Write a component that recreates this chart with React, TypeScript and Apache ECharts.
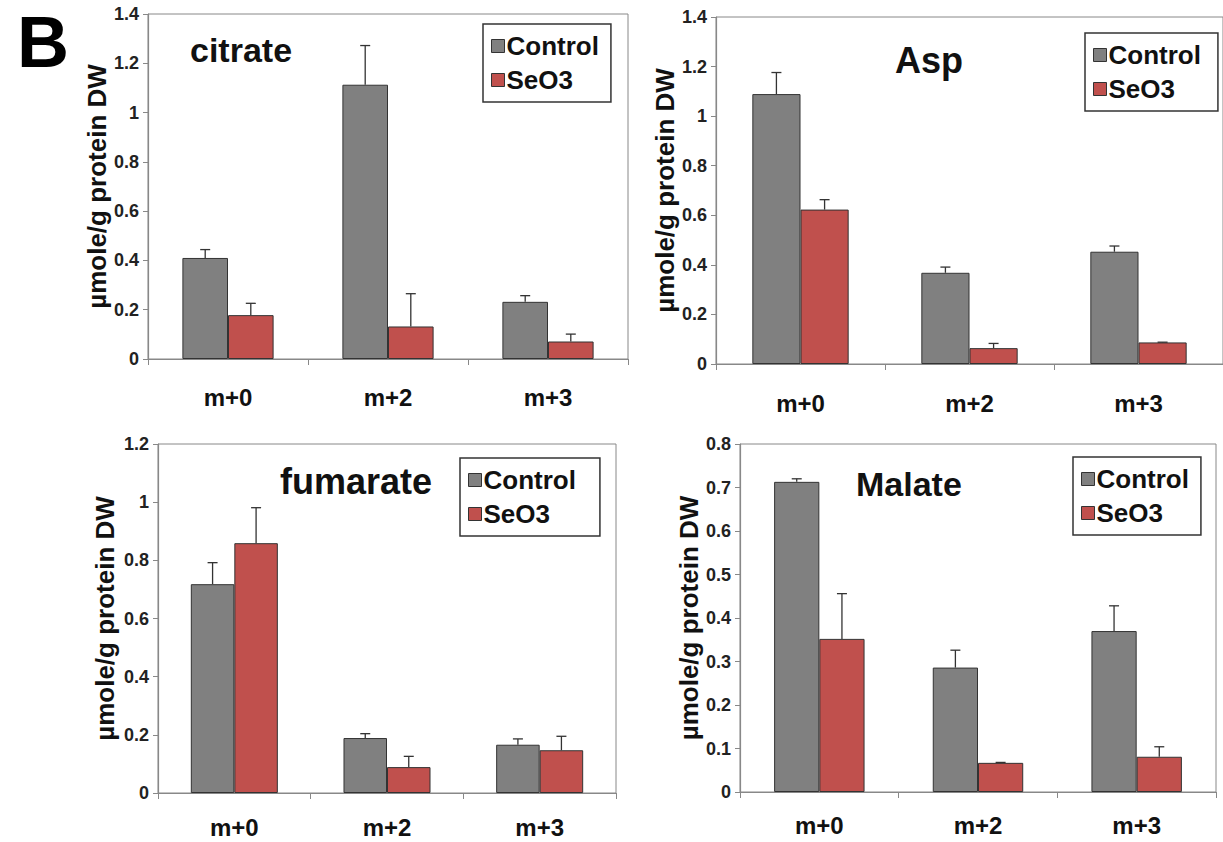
import React, { useEffect, useRef } from "react";
import * as echarts from "echarts";

const categories = ["m+0", "m+2", "m+3"];
const seriesNames = ["Control", "SeO3"];

const citrateControl = [0.41, 1.113, 0.232];
const citrateControlErr = [0.034, 0.159, 0.025];
const citrateSeO3 = [0.178, 0.132, 0.071];
const citrateSeO3Err = [0.048, 0.133, 0.03];

const aspControl = [1.089, 0.368, 0.453];
const aspControlErr = [0.087, 0.023, 0.023];
const aspSeO3 = [0.623, 0.064, 0.087];
const aspSeO3Err = [0.04, 0.019, 0.001];

const fumarateControl = [0.718, 0.189, 0.166];
const fumarateControlErr = [0.074, 0.015, 0.02];
const fumarateSeO3 = [0.859, 0.089, 0.147];
const fumarateSeO3Err = [0.122, 0.037, 0.048];

const malateControl = [0.713, 0.286, 0.37];
const malateControlErr = [0.007, 0.04, 0.058];
const malateSeO3 = [0.352, 0.067, 0.081];
const malateSeO3Err = [0.104, 0.001, 0.023];

const panelLetter = "B";
const panelTitles = ["citrate", "Asp", "fumarate", "Malate"];
const yAxisName = "µmole/g protein DW";
const yMax = [1.4, 1.4, 1.2, 0.8];
const yInterval = [0.2, 0.2, 0.2, 0.1];

const FONT = "Liberation Sans, Arial, sans-serif";
const GRAY = "#808080";
const RED = "#c0504d";
const GAP = 0.43;

const panels = [
  { control: citrateControl, controlErr: citrateControlErr, seo3: citrateSeO3, seo3Err: citrateSeO3Err },
  { control: aspControl, controlErr: aspControlErr, seo3: aspSeO3, seo3Err: aspSeO3Err },
  { control: fumarateControl, controlErr: fumarateControlErr, seo3: fumarateSeO3, seo3Err: fumarateSeO3Err },
  { control: malateControl, controlErr: malateControlErr, seo3: malateSeO3, seo3Err: malateSeO3Err },
];

const grids = [
  { left: 148, top: 14, width: 480, height: 345 },
  { left: 716, top: 17, width: 513, height: 347 },
  { left: 158, top: 444, width: 458, height: 349 },
  { left: 740, top: 444, width: 476, height: 348 },
];
const nameGaps = [30, 32, 40, 36];
const catMargins = [26, 27, 22, 21];
const titleSizes = [34, 36, 36, 34];
const titlePos = [
  { left: 190, top: 33 },
  { left: 895, top: 42 },
  { left: 280, top: 463 },
  { left: 856, top: 467 },
];
const legendPos = [
  { left: 483, top: 24, padR: 12 },
  { left: 1085, top: 33, padR: 17 },
  { left: 460, top: 458, padR: 24 },
  { left: 1073, top: 457, padR: 12 },
];

function errorRender(side: number) {
  return (params: any, api: any) => {
    const cat = api.value(0);
    const base = api.coord([cat, api.value(1)]);
    const top = api.coord([cat, api.value(2)]);
    const band = api.size([1, 0])[0];
    const barW = (band * (1 - GAP)) / 2;
    const x = base[0] + side * (barW / 2);
    const style = { stroke: "#333", lineWidth: 1.3 };
    return {
      type: "group",
      children: [
        { type: "line", shape: { x1: x, y1: base[1], x2: x, y2: top[1] }, style },
        { type: "line", shape: { x1: x - 5, y1: top[1], x2: x + 5, y2: top[1] }, style },
      ],
    };
  };
}

export default function App() {
  const ref = useRef<HTMLDivElement>(null);
  useEffect(() => {
    if (!ref.current) return;
    const chart = echarts.init(ref.current, null, { renderer: "svg" });
    const series: any[] = [];
    panels.forEach((p, i) => {
      series.push({
        name: seriesNames[0],
        type: "bar",
        xAxisIndex: i,
        yAxisIndex: i,
        data: p.control,
        barGap: "0%",
        barCategoryGap: GAP * 100 + "%",
        itemStyle: { color: GRAY, borderColor: "#333", borderWidth: 1 },
      });
      series.push({
        name: seriesNames[1],
        type: "bar",
        xAxisIndex: i,
        yAxisIndex: i,
        data: p.seo3,
        barGap: "0%",
        barCategoryGap: GAP * 100 + "%",
        itemStyle: { color: RED, borderColor: "#333", borderWidth: 1 },
      });
      series.push({
        name: "err",
        type: "custom",
        xAxisIndex: i,
        yAxisIndex: i,
        renderItem: errorRender(-1),
        data: p.control.map((v, k) => [k, v, v + p.controlErr[k]]),
        z: 3,
      });
      series.push({
        name: "err",
        type: "custom",
        xAxisIndex: i,
        yAxisIndex: i,
        renderItem: errorRender(1),
        data: p.seo3.map((v, k) => [k, v, v + p.seo3Err[k]]),
        z: 3,
      });
    });

    const option: any = {
      animation: false,
      backgroundColor: "#ffffff",
      graphic: [
        {
          type: "text",
          left: 17,
          top: 6,
          style: { text: panelLetter, fontFamily: FONT, fontSize: 72, lineHeight: 72, fontWeight: "bold", fill: "#000" },
        },
      ],
      title: panelTitles.map((t, i) => ({
        text: t,
        left: titlePos[i].left,
        top: titlePos[i].top,
        padding: 0,
        textStyle: { fontFamily: FONT, fontSize: titleSizes[i], fontWeight: "bold", color: "#111" },
      })),
      legend: legendPos.map((lp) => ({
        data: seriesNames,
        left: lp.left,
        top: lp.top,
        orient: "vertical",
        icon: "rect",
        itemWidth: 13,
        itemHeight: 13,
        itemGap: 8,
        padding: [9, lp.padR, 9, 8],
        borderColor: "#333",
        borderWidth: 1.5,
        selectedMode: false,
        itemStyle: { borderColor: "#333", borderWidth: 1 },
        textStyle: { fontFamily: FONT, fontSize: 26, fontWeight: "bold", color: "#111", padding: [0, 0, 0, -3] },
      })),
      grid: grids.map((g) => ({
        ...g,
        show: true,
        borderColor: "#888",
        borderWidth: 1,
        backgroundColor: "transparent",
        containLabel: false,
      })),
      xAxis: grids.map((g, i) => ({
        type: "category",
        gridIndex: i,
        data: categories,
        axisLine: { lineStyle: { color: "#888", width: 1.2 } },
        axisTick: { show: true, length: 6, lineStyle: { color: "#888" } },
        axisLabel: { fontFamily: FONT, fontSize: 24, fontWeight: "bold", color: "#111", margin: catMargins[i] },
      })),
      yAxis: grids.map((g, i) => ({
        type: "value",
        gridIndex: i,
        min: 0,
        max: yMax[i],
        interval: yInterval[i],
        name: yAxisName,
        nameLocation: "middle",
        nameRotate: 90,
        nameGap: nameGaps[i],
        nameTextStyle: { fontFamily: FONT, fontSize: 26, fontWeight: "bold", color: "#111" },
        splitLine: { show: false },
        axisLine: { show: true, lineStyle: { color: "#888", width: 1.2 } },
        axisTick: { show: true, length: 5, lineStyle: { color: "#888" } },
        axisLabel: { fontFamily: FONT, fontSize: 18, fontWeight: "bold", color: "#222", margin: 9 },
      })),
      series,
    };
    chart.setOption(option);
    return () => chart.dispose();
  }, []);
  return (
    <div
      ref={ref}
      style={{ position: "absolute", left: 0, top: 0, width: 1223, height: 842, overflow: "hidden" }}
    />
  );
}
